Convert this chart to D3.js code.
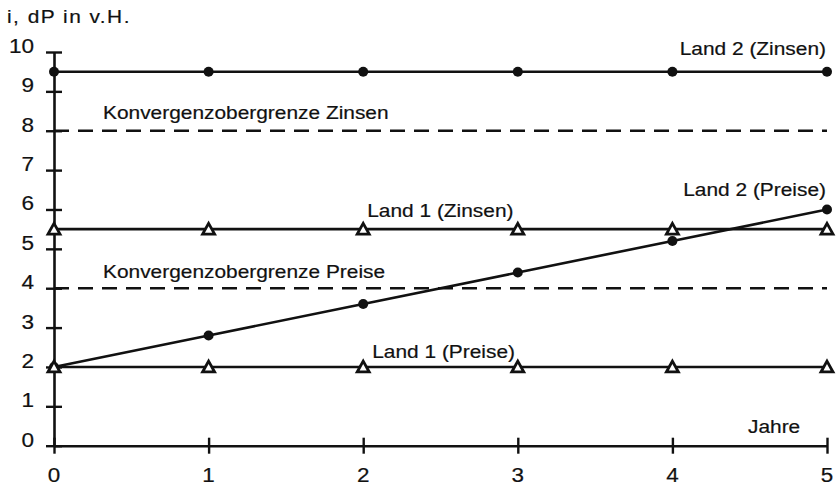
<!DOCTYPE html>
<html><head><meta charset="utf-8">
<script src="https://cdn.jsdelivr.net/npm/d3@7"></script>
<style>
html,body{margin:0;padding:0;background:#fff;}
text{font-family:"Liberation Sans",Arial,Helvetica,sans-serif;fill:#111;stroke:#111;stroke-width:0.2px;}
</style></head>
<body><svg id="chart" width="840" height="487"></svg>
<script>
const years = [0, 1, 2, 3, 4, 5];
const land2Zinsen = [9.5, 9.5, 9.5, 9.5, 9.5, 9.5];
const land1Zinsen = [5.5, 5.5, 5.5, 5.5, 5.5, 5.5];
const land2Preise = [2.0, 2.8, 3.6, 4.4, 5.2, 6.0];
const land1Preise = [2.0, 2.0, 2.0, 2.0, 2.0, 2.0];
const grenzeZinsen = 8;
const grenzePreise = 4;
const yTicks = [0,1,2,3,4,5,6,7,8,9,10];
const xTicks = [0,1,2,3,4,5];
const yTitle = "i, dP in v.H.";
const xTitle = "Jahre";

const svg = d3.select("#chart");
const x = d3.scaleLinear().domain([0,5]).range([54,827]);
const y = d3.scaleLinear().domain([0,10]).range([445.7,52]);
const ink = "#111";

function label(txt, px, py, size, anchor, sx, extra){
  const t = svg.append("text")
    .attr("transform", `translate(${px},${py}) scale(${sx},1)`)
    .attr("text-anchor", anchor || "start")
    .style("font-size", size + "px")
    .text(txt);
  if (extra) extra(t);
  return t;
}

// axes
const yAxis = d3.axisLeft(y).tickValues(yTicks).tickSizeInner(8).tickSizeOuter(0).tickFormat("");
const gy = svg.append("g").attr("transform",`translate(${x(0)},0)`).call(yAxis);
gy.select(".domain").attr("stroke", ink).attr("stroke-width", 2.6);
gy.selectAll(".tick line").attr("x1", 8).attr("x2", -8).attr("stroke", ink).attr("stroke-width", 2.4);

const xAxis = d3.axisBottom(x).tickValues(xTicks).tickSizeInner(8).tickSizeOuter(0).tickFormat("");
const gx = svg.append("g").attr("transform",`translate(0,${y(0)})`).call(xAxis);
gx.select(".domain").attr("stroke", ink).attr("stroke-width", 2.6);
gx.selectAll(".tick line").attr("y1", -8).attr("y2", 8).attr("stroke", ink).attr("stroke-width", 2.4);

// tick labels
yTicks.forEach(v => label(String(v), 34, y(v)+1, 20.5, "end", 1.1));
xTicks.forEach(v => label(String(v), x(v), 482, 19.5, "middle", 1.15));

// dashed limits
[grenzeZinsen, grenzePreise].forEach(v => {
  svg.append("line").attr("x1", x(0)).attr("x2", x(5)).attr("y1", y(v)).attr("y2", y(v))
    .attr("stroke", ink).attr("stroke-width", 2.4).attr("stroke-dasharray", "15,9");
});

// lines
const line = d3.line().x((d,i)=>x(years[i])).y(d=>y(d));
[land2Zinsen, land1Zinsen, land2Preise, land1Preise].forEach(s => {
  svg.append("path").datum(s).attr("d", line).attr("fill","none")
    .attr("stroke", ink).attr("stroke-width", 2.6);
});

// circle markers
[land2Zinsen, land2Preise].forEach(s => {
  svg.append("g").selectAll("circle").data(s).join("circle")
    .attr("cx",(d,i)=>x(years[i])).attr("cy", d=>y(d)).attr("r", 5).attr("fill", ink);
});
// triangle markers
const tri = "M0,-5.8 L6,5 L-6,5 Z";
[land1Zinsen, land1Preise].forEach(s => {
  svg.append("g").selectAll("path").data(s).join("path")
    .attr("d", tri)
    .attr("transform",(d,i)=>`translate(${x(years[i])},${y(d)})`)
    .attr("fill","#fff").attr("stroke", ink).attr("stroke-width", 2.8)
    .attr("stroke-linejoin","miter");
});

// annotations
const F = 18.5, S = 1.13;
label("Land 2 (Zinsen)", x(5)-1, y(9.5)-17, F, "end", S);
label("Konvergenzobergrenze Zinsen", x(0)+49, y(grenzeZinsen)-12, F, "start", S);
label("Land 2 (Preise)", x(5)-1, y(6)-13, F, "end", S);
label("Land 1 (Zinsen)", x(2)+4, y(5.5)-12, F, "start", S);
label("Konvergenzobergrenze Preise", x(0)+49, y(grenzePreise)-10, F, "start", S);
label("Land 1 (Preise)", x(2)+9, y(2)-9, F, "start", S);
label(xTitle, x(5)-79, y(0)-12.7, F, "start", S);
label(yTitle, 7, 23, 18.5, "start", 1.13, t => t.style("letter-spacing","1.3px"));
</script></body></html>
